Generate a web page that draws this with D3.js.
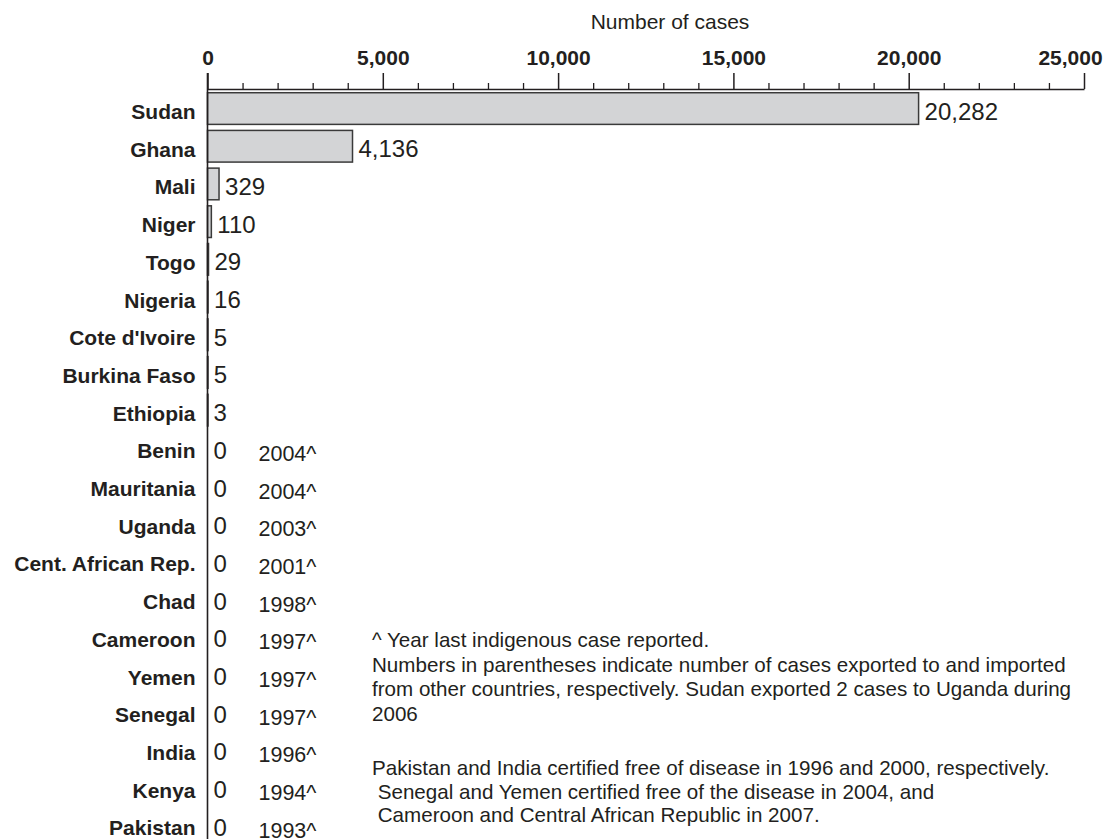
<!DOCTYPE html>
<html>
<head>
<meta charset="utf-8">
<script src="https://cdn.jsdelivr.net/npm/d3@7"></script>
<style>
  html, body { margin: 0; padding: 0; background: #fff; }
  svg { display: block; font-family: "Liberation Sans", Arial, Helvetica, sans-serif; }
</style>
</head>
<body>
<svg id="chart" width="1111" height="839"></svg>
<script>
const countries = ["Sudan","Ghana","Mali","Niger","Togo","Nigeria","Cote d'Ivoire","Burkina Faso","Ethiopia","Benin","Mauritania","Uganda","Cent. African Rep.","Chad","Cameroon","Yemen","Senegal","India","Kenya","Pakistan"];
const cases = [20282,4136,329,110,29,16,5,5,3,0,0,0,0,0,0,0,0,0,0,0];
const lastYear = [null,null,null,null,null,null,null,null,null,"2004^","2004^","2003^","2001^","1998^","1997^","1997^","1997^","1996^","1994^","1993^"];
const majorTicks = [0,5000,10000,15000,20000,25000];
const minorTicks = [1000,2000,3000,4000,6000,7000,8000,9000,11000,12000,13000,14000,16000,17000,18000,19000,21000,22000,23000,24000];
const axisTitle = "Number of cases";
const noteBlock1 = ["^ Year last indigenous case reported.","Numbers in parentheses indicate number of cases exported to and imported","from other countries, respectively. Sudan exported 2 cases to Uganda during","2006"];
const noteBlock2 = ["Pakistan and India certified free of disease in 1996 and 2000, respectively."," Senegal and Yemen certified free of the disease in 2004, and"," Cameroon and Central African Republic in 2007."];

const data = countries.map((c,i)=>({country:c, value:cases[i], year:lastYear[i]}));
const svg = d3.select("#chart");
const ink = "#231f20";

const x = d3.scaleLinear().domain([0,25000]).range([207.5,1084]);
const y = d3.scaleBand().domain(countries).range([89.7, 843.7]).paddingInner(0.16).paddingOuter(0.08);
const axisY = 89;

// axis title
svg.append("text").attr("x",670).attr("y",29).attr("text-anchor","middle")
  .attr("font-size",21).attr("fill",ink).text(axisTitle);

// minor ticks
const gMinor = svg.append("g").attr("transform",`translate(0,${axisY})`)
  .call(d3.axisTop(x).tickValues(minorTicks).tickSize(6).tickSizeOuter(0).tickFormat(""));
gMinor.select(".domain").remove();
gMinor.selectAll("line").attr("stroke",ink).attr("stroke-width",1.3);

// major ticks
const gMajor = svg.append("g").attr("transform",`translate(0,${axisY})`)
  .call(d3.axisTop(x).tickValues(majorTicks).tickSize(16).tickSizeOuter(0).tickPadding(8).tickFormat(d3.format(",")));
gMajor.select(".domain").attr("stroke",ink).attr("stroke-width",1.5);
gMajor.selectAll("line").attr("stroke",ink).attr("stroke-width",1.5);
gMajor.selectAll("text").attr("font-size",21).attr("font-weight","bold").attr("fill",ink)
  .attr("font-family","'Liberation Sans', Arial, sans-serif")
  .attr("dx",(d,i,n)=> i===n.length-1 ? -14 : 0);

// bars
svg.append("g").selectAll("rect").data(data.filter(d=>d.value>0)).join("rect")
  .attr("x",x(0)).attr("y",d=>y(d.country))
  .attr("width",d=>Math.max(x(d.value)-x(0),0.5)).attr("height",y.bandwidth())
  .attr("fill","#d3d4d6").attr("stroke","#3a3a3a").attr("stroke-width",1.5);

// vertical axis line
svg.append("line").attr("x1",x(0)).attr("x2",x(0)).attr("y1",axisY-16).attr("y2",839)
  .attr("stroke",ink).attr("stroke-width",1.6);

// country labels
svg.append("g").selectAll("text").data(data).join("text")
  .attr("x",x(0)-12).attr("y",d=>y(d.country)+y.bandwidth()/2+10.5)
  .attr("text-anchor","end").attr("font-size",21).attr("font-weight","bold").attr("fill",ink)
  .text(d=>d.country);

// value labels
svg.append("g").selectAll("text").data(data).join("text")
  .attr("x",d=>x(d.value)+6).attr("y",d=>y(d.country)+y.bandwidth()/2+11)
  .attr("font-size",24).attr("fill",ink)
  .text(d=>d3.format(",")(d.value));

// year labels
svg.append("g").selectAll("text").data(data.filter(d=>d.year)).join("text")
  .attr("x",x(0)+51).attr("y",d=>y(d.country)+y.bandwidth()/2+13)
  .attr("font-size",21.5).attr("fill",ink)
  .text(d=>d.year);

// notes
const notes = svg.append("g").attr("font-size",20.6).attr("fill",ink);
noteBlock1.forEach((t,i)=>notes.append("text").attr("xml:space","preserve").style("white-space","pre")
  .attr("x",372).attr("y",647+i*24.5).text(t));
noteBlock2.forEach((t,i)=>notes.append("text").attr("xml:space","preserve").style("white-space","pre")
  .attr("x",372).attr("y",775+i*23.5).text(t));
</script>
</body>
</html>
